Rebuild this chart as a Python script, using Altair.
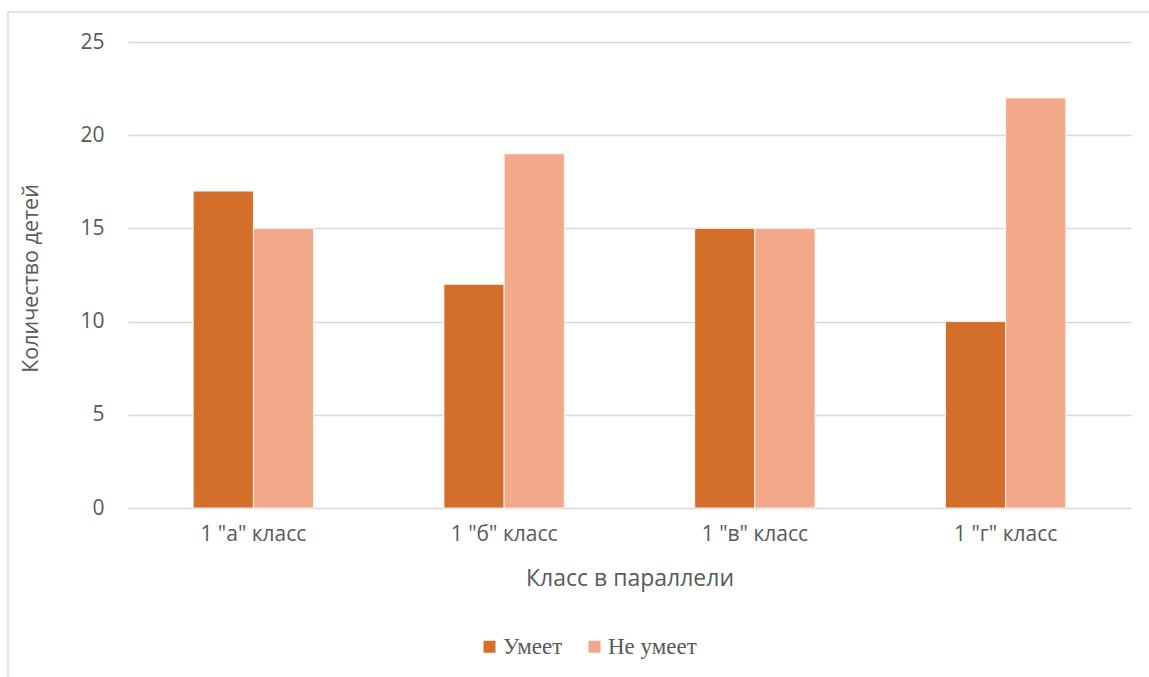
import altair as alt
import pandas as pd

# Class groups and the number of children in each
classes = ['1 "а" класс', '1 "б" класс', '1 "в" класс', '1 "г" класс']
can = [17, 12, 15, 10]
cannot = [15, 19, 15, 22]
series = ["Умеет", "Не умеет"]
colors = ["#D36F2B", "#F1A98A"]

rows = []
for c, a, b in zip(classes, can, cannot):
    rows.append({"Класс": c, "Серия": series[0], "Значение": a})
    rows.append({"Класс": c, "Серия": series[1], "Значение": b})
df = pd.DataFrame(rows)

W, H = 1003, 466
LEFT, TOP = 128, 42

label_font = "Open Sans"
gray = "#595959"

bars = alt.Chart(df).mark_bar(stroke="white", strokeWidth=0.8).encode(
    x=alt.X(
        "Класс:N",
        sort=classes,
        scale=alt.Scale(paddingInner=0.52, paddingOuter=0.26),
        axis=alt.Axis(
            title="Класс в параллели",
            titleFont=label_font,
            titleFontSize=23,
            titleFontWeight="normal",
            titleColor=gray,
            titleY=70,
            titleBaseline="middle",
            labelFont=label_font,
            labelFontSize=21,
            labelColor=gray,
            labelPadding=15,
            labelAngle=0,
            domain=False,
            ticks=False,
        ),
    ),
    xOffset=alt.XOffset("Серия:N", sort=series),
    y=alt.Y(
        "Значение:Q",
        scale=alt.Scale(domain=[0, 25], nice=False),
        axis=alt.Axis(
            title="Количество детей",
            titleFont=label_font,
            titleFontSize=21.5,
            titleFontWeight="normal",
            titleColor=gray,
            titleX=-97,
            titleY=H / 2 + 3,
            titleBaseline="middle",
            titleAlign="center",
            titleAngle=270,
            values=[0, 5, 10, 15, 20, 25],
            labelFont=label_font,
            labelFontSize=21,
            labelColor=gray,
            labelPadding=24,
            domain=False,
            ticks=False,
            grid=True,
            gridColor="#D9D9D9",
            gridWidth=1.3,
        ),
    ),
    color=alt.Color(
        "Серия:N",
        sort=series,
        scale=alt.Scale(domain=series, range=colors),
        legend=alt.Legend(
            title=None,
            orient="none",
            direction="horizontal",
            legendX=484 - LEFT - 6,
            legendY=646 - TOP - 11,
            symbolType="square",
            symbolSize=144,
            symbolStrokeWidth=0,
            labelFont="Liberation Serif",
            labelFontSize=23,
            labelColor=gray,
            labelOffset=2,
            columnPadding=20,
        ),
    ),
)

# Light frame around the whole chart
frame = alt.Chart(pd.DataFrame({"k": [0]})).mark_rect(
    fill=None, stroke="#D9D9D9", strokeWidth=1.5, clip=False
).encode(
    x=alt.value(8 - LEFT),
    x2=alt.value(1160 - LEFT),
    y=alt.value(12 - TOP),
    y2=alt.value(700 - TOP),
)

chart = alt.layer(frame, bars).properties(
    width=W,
    height=H,
    autosize=alt.AutoSizeParams(type="none"),
    padding={"left": LEFT, "top": TOP, "right": 1149 - LEFT - W, "bottom": 677 - TOP - H},
    background="white",
).configure_view(stroke=None)

chart.save("out.html", embed_options={"renderer": "svg", "actions": False})
